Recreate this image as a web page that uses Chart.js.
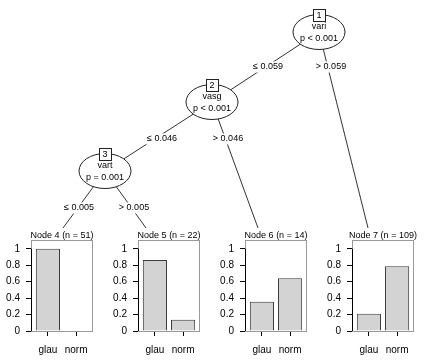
<!DOCTYPE html>
<html>
<head>
<meta charset="utf-8">
<script src="https://cdn.jsdelivr.net/npm/chart.js@4/dist/chart.umd.min.js"></script>
<style>
  html, body { margin: 0; padding: 0; background: #fff; }
  #wrap { position: relative; width: 428px; height: 362px; overflow: hidden; }
  #wrap canvas { position: absolute; }
</style>
</head>
<body>
<div id="wrap"><canvas id="tree" width="428" height="362" style="left:0;top:0"></canvas></div>
<script>
// ---------------- DATA ----------------
const innerIds   = [1, 2, 3];
const splitVars  = ['vari', 'vasg', 'vart'];
const pLabels    = ['p < 0.001', 'p < 0.001', 'p = 0.001'];
const splitPts   = ['0.059', '0.046', '0.005'];
const leafIds    = [4, 5, 6, 7];
const leafN      = [51, 22, 14, 109];
const classes    = ['glau', 'norm'];
const glauProp   = [1.0, 0.864, 0.357, 0.211];
const normProp   = [0.0, 0.136, 0.643, 0.789];
const yTickVals  = [0, 0.2, 0.4, 0.6, 0.8, 1];

// ---------------- LAYOUT (positions only) ----------------
const FONT = "'Liberation Sans', Arial, Helvetica, sans-serif";
const nodePos = { 1: [319, 32], 2: [212, 102], 3: [105, 171] };
const leafTop = { 4: [63, 228], 5: [146, 228], 6: [258, 228], 7: [368, 228] };
// edges: [parent, child, side(0 = left '≤', 1 = right '>'), labelX, labelY]
const edges = [
  [1, 2, 0, 268, 67], [1, 7, 1, 331, 67],
  [2, 3, 0, 162, 139], [2, 6, 1, 228, 139],
  [3, 4, 0, 79, 208], [3, 5, 1, 134, 208]
];
const panelLeft = [31, 138, 245, 352];
const boxW = 62, axisW = 31, padTop = 10, padRight = 4, canvasH = 134, panelTop = 228;

function posOf(id) { return nodePos[id] || leafTop[id]; }

// ---------------- TREE ----------------
const treePlugin = {
  id: 'treeDeco',
  afterDatasetsDraw(chart) {
    const ctx = chart.ctx, xs = chart.scales.x, ys = chart.scales.y;
    const X = v => xs.getPixelForValue(v), Y = v => ys.getPixelForValue(v);
    ctx.save();
    ctx.font = '9px ' + FONT;
    ctx.textAlign = 'center';
    ctx.textBaseline = 'middle';
    // edge labels
    edges.forEach(e => {
      const i = innerIds.indexOf(e[0]);
      const txt = (e[2] === 0 ? '\u2264 ' : '> ') + splitPts[i];
      const w = ctx.measureText(txt).width;
      const lx = X(e[3]), ly = Y(e[4]);
      ctx.fillStyle = '#fff';
      ctx.fillRect(lx - w / 2 - 1, ly - 5.5, w + 2, 11);
      ctx.fillStyle = '#000';
      ctx.fillText(txt, lx, ly);
    });
    // inner nodes
    innerIds.forEach((id, i) => {
      const cx = X(nodePos[id][0]), cy = Y(nodePos[id][1]);
      ctx.beginPath();
      ctx.ellipse(cx, cy, 26, 17.5, 0, 0, Math.PI * 2);
      ctx.fillStyle = '#fff';
      ctx.fill();
      ctx.strokeStyle = '#222';
      ctx.lineWidth = 1;
      ctx.stroke();
      // id box
      const bx = Math.round(cx - 6) + 0.5, by = Math.round(cy - 17.5 - 6) + 0.5;
      ctx.fillStyle = '#fff';
      ctx.fillRect(bx, by, 12, 12);
      ctx.strokeRect(bx, by, 12, 12);
      ctx.fillStyle = '#000';
      ctx.fillText(String(id), cx, by + 6.5);
      ctx.fillText(splitVars[i], cx, cy - 5.5);
      ctx.fillText(pLabels[i], cx, cy + 6.5);
    });
    ctx.restore();
  }
};

new Chart(document.getElementById('tree'), {
  type: 'scatter',
  data: {
    datasets: edges.map(e => ({
      data: [
        { x: posOf(e[0])[0], y: posOf(e[0])[1] },
        { x: posOf(e[1])[0], y: posOf(e[1])[1] }
      ],
      showLine: true,
      borderColor: '#333',
      borderWidth: 1,
      pointRadius: 0
    }))
  },
  options: {
    responsive: false,
    animation: false,
    devicePixelRatio: 1,
    layout: { padding: 0 },
    plugins: { legend: { display: false }, tooltip: { enabled: false } },
    scales: {
      x: { type: 'linear', min: 0, max: 428, display: false },
      y: { type: 'linear', min: 0, max: 362, reverse: true, display: false }
    }
  },
  plugins: [treePlugin]
});

// ---------------- TERMINAL PANELS ----------------
function panelPlugin(k) {
  return {
    id: 'panelDeco' + k,
    beforeDatasetsDraw(chart) {
      const ctx = chart.ctx, a = chart.chartArea;
      ctx.save();
      ctx.strokeStyle = '#999';
      ctx.lineWidth = 1;
      ctx.strokeRect(Math.round(a.left) + 0.5, Math.round(a.top) + 0.5,
                     Math.round(a.right - a.left) - 1, Math.round(a.bottom - a.top));
      ctx.restore();
    },
    afterDraw(chart) {
      const ctx = chart.ctx, a = chart.chartArea, ys = chart.scales.y;
      ctx.save();
      ctx.strokeStyle = '#000';
      ctx.lineWidth = 1;
      const x = Math.round(a.left) + 0.5;
      ctx.beginPath();
      ctx.moveTo(x, ys.getPixelForValue(yTickVals[0]));
      ctx.lineTo(x, ys.getPixelForValue(yTickVals[yTickVals.length - 1]));
      ctx.stroke();
      ctx.font = '9px ' + FONT;
      ctx.fillStyle = '#000';
      ctx.textAlign = 'center';
      ctx.textBaseline = 'bottom';
      ctx.fillText('Node ' + leafIds[k] + ' (n = ' + leafN[k] + ')', (a.left + a.right) / 2, a.top + 0.5);
      ctx.restore();
    }
  };
}

leafIds.forEach((id, k) => {
  const cv = document.createElement('canvas');
  const w = axisW + boxW + padRight;
  cv.width = w; cv.height = canvasH;
  cv.style.left = (panelLeft[k] - axisW) + 'px';
  cv.style.top = panelTop + 'px';
  document.getElementById('wrap').appendChild(cv);
  new Chart(cv, {
    type: 'bar',
    data: {
      datasets: [{
        data: [{ x: 1, y: glauProp[k] }, { x: 2, y: normProp[k] }],
        backgroundColor: '#d3d3d3',
        borderColor: '#3a3a3a',
        borderWidth: 1,
        barPercentage: 1,
        categoryPercentage: 0.857
      }]
    },
    options: {
      responsive: false,
      animation: false,
      devicePixelRatio: 1,
      layout: { padding: { top: padTop, right: padRight, left: 0, bottom: 0 } },
      plugins: { legend: { display: false }, tooltip: { enabled: false }, title: { display: false } },
      scales: {
        x: {
          type: 'linear', min: 0.4, max: 2.6, offset: false,
          afterBuildTicks: s => { s.ticks = classes.map((c, i) => ({ value: i + 1 })); },
          afterFit: s => { s.height = canvasH - padTop - 93; },
          ticks: {
            autoSkip: false, maxRotation: 0, padding: 8, color: '#000',
            font: { family: FONT, size: 10 },
            callback: v => classes[Math.round(v) - 1]
          },
          grid: { display: true, drawOnChartArea: false, drawTicks: true, tickLength: 5, color: '#000', offset: false },
          border: { display: false }
        },
        y: {
          type: 'linear', min: 0, max: 1.107,
          afterBuildTicks: s => { s.ticks = yTickVals.map(v => ({ value: v })); },
          afterFit: s => { s.width = axisW; },
          ticks: {
            padding: 6, color: '#000',
            font: { family: FONT, size: 10 },
            callback: v => String(v)
          },
          grid: { display: true, drawOnChartArea: false, drawTicks: true, tickLength: 5, color: '#000' },
          border: { display: false }
        }
      }
    },
    plugins: [panelPlugin(k)]
  });
});
</script>
</body>
</html>
